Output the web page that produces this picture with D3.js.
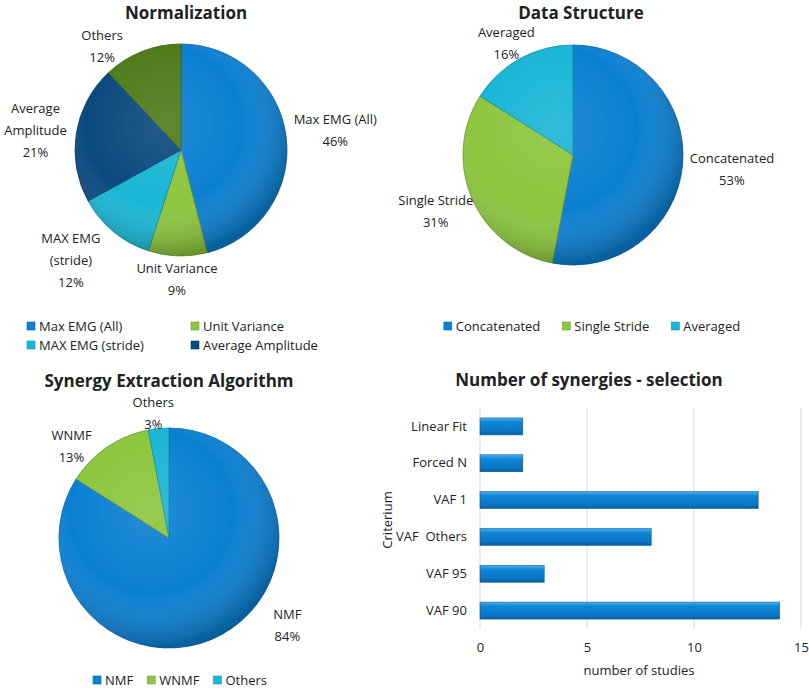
<!DOCTYPE html>
<html>
<head>
<meta charset="utf-8">
<script src="https://cdn.jsdelivr.net/npm/d3@7"></script>
<style>
  body { margin: 0; background: #fff; }
  text { font-family: "Open Sans", sans-serif; fill: #222; }
</style>
</head>
<body>
<svg id="chart" width="809" height="688"></svg>
<script>
// Data
const normLabels = ["Max EMG (All)", "Unit Variance", "MAX EMG (stride)", "Average Amplitude", "Others"];
const normValues = [46, 9, 12, 21, 12];
const normLegend = ["Max EMG (All)", "Unit Variance", "MAX EMG (stride)", "Average Amplitude"];

const structLabels = ["Concatenated", "Single Stride", "Averaged"];
const structValues = [53, 31, 16];

const algoLabels = ["NMF", "WNMF", "Others"];
const algoValues = [84, 13, 3];

const critLabels = ["Linear Fit", "Forced N", "VAF 1", "VAF  Others", "VAF 95", "VAF 90"];
const critValues = [2, 2, 13, 8, 3, 14];
const xTicks = [0, 5, 10, 15];

const BLUE = "#0b80d2", GREEN = "#8cc63e", CYAN = "#19b6d6", NAVY = "#0b4a7e", OLIVE = "#4f7c1b";

const svg = d3.select("#chart");
const defs = svg.append("defs");

// shading overlay for the pies (light top-left, dark rim)
const shade = defs.append("radialGradient").attr("id", "pieShade")
    .attr("cx", "42%").attr("cy", "38%").attr("r", "62%");
shade.append("stop").attr("offset", "0%").attr("stop-color", "#fff").attr("stop-opacity", 0.1);
shade.append("stop").attr("offset", "60%").attr("stop-color", "#fff").attr("stop-opacity", 0);
shade.append("stop").attr("offset", "100%").attr("stop-color", "#000").attr("stop-opacity", 0.25);

// bar gradient
const barGrad = defs.append("linearGradient").attr("id", "barGrad")
    .attr("x1", 0).attr("y1", 0).attr("x2", 0).attr("y2", 1);
barGrad.append("stop").attr("offset", "0%").attr("stop-color", "#4fb0ee");
barGrad.append("stop").attr("offset", "25%").attr("stop-color", "#0d86d6");
barGrad.append("stop").attr("offset", "80%").attr("stop-color", "#0a74c2");
barGrad.append("stop").attr("offset", "100%").attr("stop-color", "#075c9a");

// hand tweaks so labels sit where the reference puts them (best-fit placement)
const labelNudge = {
    "Others@norm": [-29, 23],
    "Average Amplitude": [0, 4],
    "MAX EMG (stride)": [-13, -6],
    "Averaged": [3, 16],
    "Single Stride": [7, -5],
    "NMF": [52, -33],
    "WNMF": [-18, 26],
    "Others@algo": [-3, 10]
};

function wrapLabel(s) {
    if (s.length <= 14) return [s];
    const i = s.lastIndexOf(" ");
    return [s.slice(0, i), s.slice(i + 1)];
}

function drawPie(cx, cy, r, labels, values, colors, key) {
    const g = svg.append("g").attr("transform", `translate(${cx},${cy})`);
    const total = d3.sum(values);
    const arcs = d3.pie().sort(null)(values);
    const arc = d3.arc().innerRadius(0).outerRadius(r);

    g.selectAll("path.slice")
        .data(arcs)
        .enter().append("path")
        .attr("class", "slice")
        .attr("d", arc)
        .attr("fill", (d, i) => colors[i])
        .attr("stroke", (d, i) => d3.color(colors[i]).darker(0.8))
        .attr("stroke-width", 0.8);

    g.append("circle").attr("r", r).attr("fill", "url(#pieShade)")
        .attr("pointer-events", "none");

    // labels outside end
    arcs.forEach((d, i) => {
        const lines = wrapLabel(labels[i]).concat([Math.round(values[i] / total * 100) + "%"]);
        const lab = g.append("text").attr("font-size", "13px").attr("text-anchor", "middle");
        lines.forEach((t, k) => lab.append("tspan").attr("x", 0).attr("dy", k ? 22 : 0).text(t));
        const bb = lab.node().getBBox();
        const w = bb.width, h = (lines.length - 1) * 22 + 12;
        const a = (d.startAngle + d.endAngle) / 2;
        const dx = Math.sin(a), dy = -Math.cos(a);
        const dist = r + 6 + Math.abs(dx) * w / 2 + Math.abs(dy) * h / 2;
        const n = labelNudge[labels[i] + "@" + key] || labelNudge[labels[i]] || [0, 0];
        const px = dist * dx + n[0];
        const py = dist * dy + n[1] - h / 2 + 10;
        lab.attr("transform", `translate(${px},${py})`);
    });
}

function legendMarker(g, x, y, color) {
    g.append("rect").attr("x", x).attr("y", y - 4).attr("width", 8).attr("height", 8)
        .attr("fill", color).attr("stroke", d3.color(color).darker(0.6)).attr("stroke-width", 0.6);
}

function drawLegendRow(cx, y, labels, colors, gap) {
    const g = svg.append("g");
    const items = labels.map((l, i) => {
        const t = g.append("text").attr("font-size", "13px").attr("y", y + 4.5).text(l);
        return { t, w: t.node().getComputedTextLength(), color: colors[i] };
    });
    const total = d3.sum(items, d => d.w + 12) + gap * (items.length - 1);
    let x = cx - total / 2;
    items.forEach(d => {
        legendMarker(g, x, y, d.color);
        d.t.attr("x", x + 12);
        x += d.w + 12 + gap;
    });
}

function title(x, y, s) {
    svg.append("text").attr("x", x).attr("y", y).attr("text-anchor", "middle")
        .attr("font-size", "17px").attr("font-weight", "bold").attr("fill", "#111").text(s);
}

// ---- Panel 1: Normalization
title(186, 19, "Normalization");
drawPie(181, 150, 106, normLabels, normValues, [BLUE, GREEN, CYAN, NAVY, OLIVE], "norm");
const legCols = [27, 191], legRows = [326, 345];
normLegend.forEach((l, i) => {
    const colors = [BLUE, GREEN, CYAN, NAVY];
    const g = svg.append("g");
    const x = legCols[i % 2], y = legRows[Math.floor(i / 2)];
    legendMarker(g, x, y, colors[i]);
    g.append("text").attr("x", x + 12).attr("y", y + 4.5).attr("font-size", "13px").text(l);
});

// ---- Panel 2: Data Structure
title(581, 19, "Data Structure");
drawPie(573, 155, 110, structLabels, structValues, [BLUE, GREEN, CYAN], "struct");
drawLegendRow(592, 326, structLabels, [BLUE, GREEN, CYAN], 22);

// ---- Panel 3: Synergy Extraction Algorithm
title(169, 387, "Synergy Extraction Algorithm");
drawPie(169, 538, 110, algoLabels, algoValues, [BLUE, GREEN, CYAN], "algo");
drawLegendRow(180, 680, algoLabels, [BLUE, GREEN, CYAN], 14);

// ---- Panel 4: Number of synergies - selection
title(589, 386, "Number of synergies - selection");
const x = d3.scaleLinear().domain([0, 15]).range([480, 801]);
const y = d3.scaleBand().domain(critLabels).range([408, 629]).paddingInner(0.54).paddingOuter(0.27);

svg.append("g").selectAll("line")
    .data(xTicks)
    .enter().append("line")
    .attr("x1", d => x(d)).attr("x2", d => x(d))
    .attr("y1", 408).attr("y2", 629)
    .attr("stroke", "#d9d9d9").attr("stroke-width", 1);

svg.append("g").selectAll("rect")
    .data(critValues)
    .enter().append("rect")
    .attr("x", x(0))
    .attr("y", (d, i) => y(critLabels[i]))
    .attr("width", d => x(d) - x(0))
    .attr("height", y.bandwidth())
    .attr("fill", "url(#barGrad)")
    .attr("stroke", "#0a5f9e").attr("stroke-width", 0.6);

const xAxis = svg.append("g").attr("transform", "translate(0,629)")
    .call(d3.axisBottom(x).tickValues(xTicks).tickSize(0).tickPadding(14));
xAxis.select(".domain").remove();
xAxis.selectAll("text").attr("font-size", "13px").attr("fill", "#333")
    .attr("font-family", "Open Sans, sans-serif");

const yAxis = svg.append("g").attr("transform", "translate(480,0)")
    .call(d3.axisLeft(y).tickSize(0).tickPadding(13));
yAxis.select(".domain").remove();
yAxis.selectAll("text").attr("font-size", "13px").attr("fill", "#222")
    .attr("font-family", "Open Sans, sans-serif")
    .style("white-space", "pre");

svg.append("text").attr("x", 639).attr("y", 675).attr("text-anchor", "middle")
    .attr("font-size", "13px").text("number of studies");
svg.append("text").attr("transform", "translate(392,520) rotate(-90)")
    .attr("text-anchor", "middle").attr("font-size", "13px").text("Criterium");
</script>
</body>
</html>
